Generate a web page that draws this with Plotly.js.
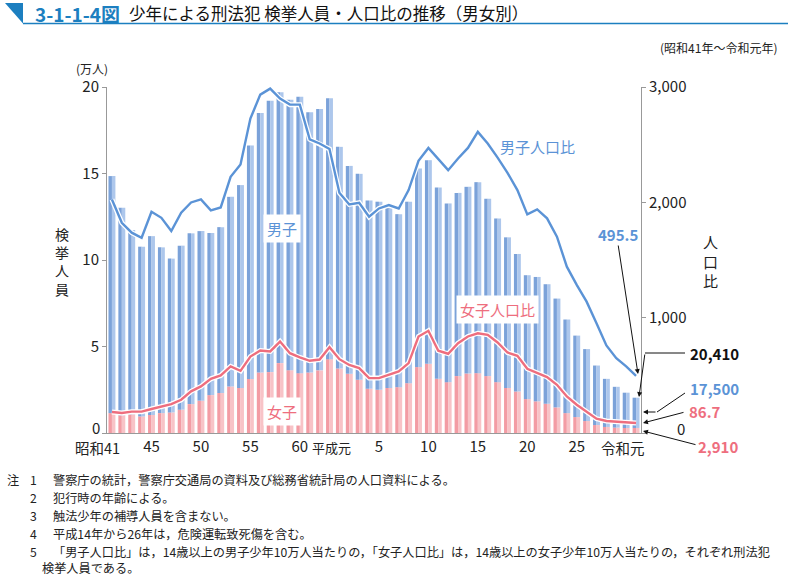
<!DOCTYPE html>
<html><head><meta charset="utf-8">
<script src="https://cdn.plot.ly/plotly-3.0.1.min.js"></script>
<style>html,body{margin:0;padding:0;background:#fff;}#chart{width:788px;height:576px;}</style>
</head><body><div id="chart"></div>
<script>
const years = [1966,1967,1968,1969,1970,1971,1972,1973,1974,1975,1976,1977,1978,1979,1980,1981,1982,1983,1984,1985,1986,1987,1988,
1989,1990,1991,1992,1993,1994,1995,1996,1997,1998,1999,2000,2001,2002,2003,2004,2005,2006,2007,2008,2009,2010,2011,2012,2013,2014,2015,2016,2017,2018,2019];
// 検挙人員 合計（万人）
const totalArrests = [14.85,13.02,11.73,10.77,11.38,10.73,10.08,10.83,11.54,11.67,11.56,11.90,13.65,14.33,16.62,18.50,19.21,19.69,19.27,19.44,18.54,18.73,19.35,
16.54,15.44,14.98,13.44,13.37,13.08,12.65,13.37,15.29,15.77,14.19,13.27,13.88,14.23,14.50,13.54,12.40,11.31,10.35,9.12,9.02,8.60,7.77,6.56,5.63,4.85,3.90,3.13,2.67,2.33,2.041];
// 女子 検挙人員（万人）
const femaleArrests = [1.15,1.02,1.08,0.96,1.04,1.15,1.19,1.35,1.67,1.87,2.19,2.31,2.69,2.60,3.12,3.50,3.52,4.04,3.63,3.46,3.50,3.62,4.27,
3.73,3.42,3.08,2.56,2.50,2.60,2.65,2.88,3.81,4.00,3.13,2.94,3.29,3.44,3.46,3.29,2.94,2.60,2.40,1.96,1.83,1.69,1.48,1.15,0.92,0.69,0.46,0.35,0.31,0.29,0.291];
// 男子人口比
const maleRatio = [2025,1823,1737,1693,1918,1866,1751,1910,1999,2025,1930,1956,2221,2328,2726,2934,2986,2899,2847,2847,2547,2510,2463,
2083,1982,1996,1875,1947,1976,1947,2106,2360,2472,2380,2279,2380,2472,2611,2510,2388,2256,2106,1895,1938,1861,1702,1442,1284,1139,952,759,649,577,495.5];
// 女子人口比
const femaleRatio = [182,173,185,185,208,231,251,288,361,404,470,499,577,539,663,715,707,793,692,655,626,637,744,
640,590,563,476,476,505,534,606,837,886,713,687,779,837,865,851,785,698,669,557,519,485,418,317,245,182,124,104,98,92,86.7];
const maleArrests = totalArrests.map((t,i)=> +(t - femaleArrests[i]).toFixed(3));

const xTickVals = [1970,1975,1980,1985,1993,1998,2003,2008,2013];
const xTickText = ['45','50','55','60','5','10','15','20','25'];

const FONT = '"Noto Sans CJK JP", "Noto Sans", sans-serif';
const BLUE = '#5b93d6', PINK = '#ee6e7e', TITLEBLUE = '#1c7fc0';

// pixel -> paper helpers (plot area: x 107..641, y 87..433)
const L=107, R=641, T=87, B=433;
const px = v => (v - L)/(R - L);
const py = v => (B - v)/(B - T);

const halfW = 0.35;
function barTrace(y, base, color, offset){
  return {type:'bar', x: years, y: y, base: base, width: halfW, offset: offset,
    marker:{color: color, line:{width:0}}, hoverinfo:'skip', showlegend:false};
}
const traces = [
  barTrace(femaleArrests, 0, '#f39ca4', -halfW),
  barTrace(femaleArrests, 0, '#f8c3c7', 0),
  barTrace(maleArrests, femaleArrests, '#7ba2d9', -halfW),
  barTrace(maleArrests, femaleArrests, '#adc7ec', 0),
  {type:'scatter', mode:'lines', x: years, y: maleRatio, yaxis:'y2', line:{color:'#fff', width:5}, showlegend:false, hoverinfo:'skip'},
  {type:'scatter', mode:'lines', x: years, y: maleRatio, yaxis:'y2', line:{color: BLUE, width:2.4}, showlegend:false},
  {type:'scatter', mode:'lines', x: years, y: femaleRatio, yaxis:'y2', line:{color:'#fff', width:5}, showlegend:false, hoverinfo:'skip'},
  {type:'scatter', mode:'lines', x: years, y: femaleRatio, yaxis:'y2', line:{color: PINK, width:2.4}, showlegend:false}
];

function txt(text, x, y, opts){
  return Object.assign({text: text, xref:'paper', yref:'paper', x: px(x), y: py(y), showarrow:false,
    xanchor:'center', yanchor:'middle', font:{family: FONT, size: 14, color:'#222'}}, opts||{});
}
function arrow(hx, hy, tx, ty){
  return {text:'', xref:'paper', yref:'paper', x: px(hx), y: py(hy), ax: tx-hx, ay: ty-hy,
    showarrow:true, arrowhead:2, arrowsize:1, arrowwidth:1, arrowcolor:'#111', standoff:0, startstandoff:0};
}
const notes = [
  ['注', '1', '警察庁の統計，警察庁交通局の資料及び総務省統計局の人口資料による。'],
  ['', '2', '犯行時の年齢による。'],
  ['', '3', '触法少年の補導人員を含まない。'],
  ['', '4', '平成14年から26年は，危険運転致死傷を含む。'],
  ['', '5', '「男子人口比」は，14歳以上の男子少年10万人当たりの，「女子人口比」は，14歳以上の女子少年10万人当たりの，それぞれ刑法犯']
];
const noteY = [480, 498, 516, 534, 552];
const NF = {family: FONT, size:12.2, color:'#222'};
const annotations = [
  txt('<b>3-1-1-4図</b>', 33, 13, {xanchor:'left', font:{family: FONT, size:19, color: TITLEBLUE}}),
  txt('少年による刑法犯 検挙人員・人口比の推移（男女別）', 127, 13, {xanchor:'left', font:{family: FONT, size:16.5, color:'#111'}}),
  txt('(昭和41年～令和元年)', 779, 47, {xanchor:'right', font:{family: FONT, size:12, color:'#222'}}),
  txt('(万人)', 92, 68, {font:{family: FONT, size:12, color:'#222'}}),
  txt('検<br>挙<br>人<br>員', 62, 261, {font:{family: FONT, size:14, color:'#222'}}),
  txt('人<br>口<br>比', 710, 261, {font:{family: FONT, size:15, color:'#222'}}),
  txt('0', 102, 427, {xanchor:'right', font:{family: FONT, size:15, color:'#222'}}),
  txt('昭和41', 97, 447, {font:{family: FONT, size:14.5, color:'#222'}}),
  txt('平成元', 331, 447, {font:{family: FONT, size:13, color:'#222'}}),
  txt('令和元', 623, 447, {font:{family: FONT, size:14.5, color:'#222'}}),
  txt('0', 687, 428, {xanchor:'right', font:{family: FONT, size:15, color:'#222'}}),
  txt('男子', 282, 228, {font:{family: FONT, size:15, color: BLUE}, bgcolor:'#fff', borderpad:3}),
  txt('女子', 282, 411, {font:{family: FONT, size:15, color: PINK}, bgcolor:'#fff', borderpad:3}),
  txt('男子人口比', 537, 146, {font:{family: FONT, size:15, color: BLUE}}),
  txt('女子人口比', 497, 309, {font:{family: FONT, size:15, color: PINK}, bgcolor:'#fff', borderpad:3}),
  txt('<b>495.5</b>', 618, 234, {font:{family: FONT, size:15, color: BLUE}}),
  txt('<b>20,410</b>', 714, 353, {font:{family: FONT, size:15, color:'#111'}}),
  txt('<b>17,500</b>', 714, 388, {font:{family: FONT, size:15, color: BLUE}}),
  txt('<b>86.7</b>', 705, 411, {font:{family: FONT, size:15, color: PINK}}),
  txt('<b>2,910</b>', 718, 446, {font:{family: FONT, size:15, color: PINK}}),
  arrow(638, 374, 618, 244),
  arrow(639, 397, 645, 353),
  arrow(643, 412, 657, 412),
  arrow(643, 423, 685, 412),
  arrow(643, 431, 697, 445)
];
notes.forEach((n,i)=>{
  if(n[0]) annotations.push(txt(n[0], 5, noteY[i], {xanchor:'left', font: NF}));
  annotations.push(txt(n[1], 33, noteY[i], {xanchor:'center', font: NF}));
  annotations.push(txt(n[2], 51, noteY[i], {xanchor:'left', font: NF}));
});
annotations.push(txt('検挙人員である。', 40, 568, {xanchor:'left', font: NF}));

const shapes = [
  {type:'path', xref:'paper', yref:'paper', path:`M ${px(5)} ${py(3)} L ${px(23)} ${py(3)} L ${px(23)} ${py(23.5)} Z`, fillcolor: TITLEBLUE, line:{width:0}},
  {type:'line', xref:'paper', yref:'paper', x0:px(23), x1:px(788), y0:py(23.5), y1:py(23.5), line:{color: TITLEBLUE, width:1.5}},
  {type:'line', xref:'paper', yref:'paper', x0:px(685), x1:px(645), y0:py(353), y1:py(353), line:{color:'#111', width:1}},
  {type:'line', xref:'paper', yref:'paper', x0:px(685), x1:px(657), y0:py(393), y1:py(412), line:{color:'#111', width:1}}
];

const layout = {
  width:788, height:576, paper_bgcolor:'#fff', plot_bgcolor:'#fff',
  margin:{l:L, r:788-R, t:T, b:576-B, pad:0},
  barmode:'overlay', showlegend:false,
  font:{family: FONT, size:15, color:'#222'},
  xaxis:{range:[1965.5, 2019.5], tickvals:xTickVals, ticktext:xTickText, ticks:'', showgrid:false, zeroline:false,
    showline:true, linecolor:'#999', linewidth:1, tickfont:{family: FONT, size:15, color:'#222'}},
  yaxis:{range:[0,20], tickvals:[0,5,10,15,20], ticktext:['','5','10','15','20'], ticks:'outside', ticklen:4, tickcolor:'#999', showgrid:false, zeroline:false,
    showline:true, linecolor:'#999', linewidth:1, tickfont:{family: FONT, size:15, color:'#222'}},
  yaxis2:{range:[0,3000], overlaying:'y', side:'right', tickvals:[0,1000,2000,3000], ticktext:['','1,000','2,000','3,000'],
    ticks:'outside', ticklen:4, tickcolor:'#999', showgrid:false, zeroline:false, showline:true, linecolor:'#999', linewidth:1,
    tickfont:{family: FONT, size:15, color:'#222'}},
  annotations: annotations, shapes: shapes
};
Plotly.newPlot('chart', traces, layout, {staticPlot:true, displayModeBar:false});
</script></body></html>
